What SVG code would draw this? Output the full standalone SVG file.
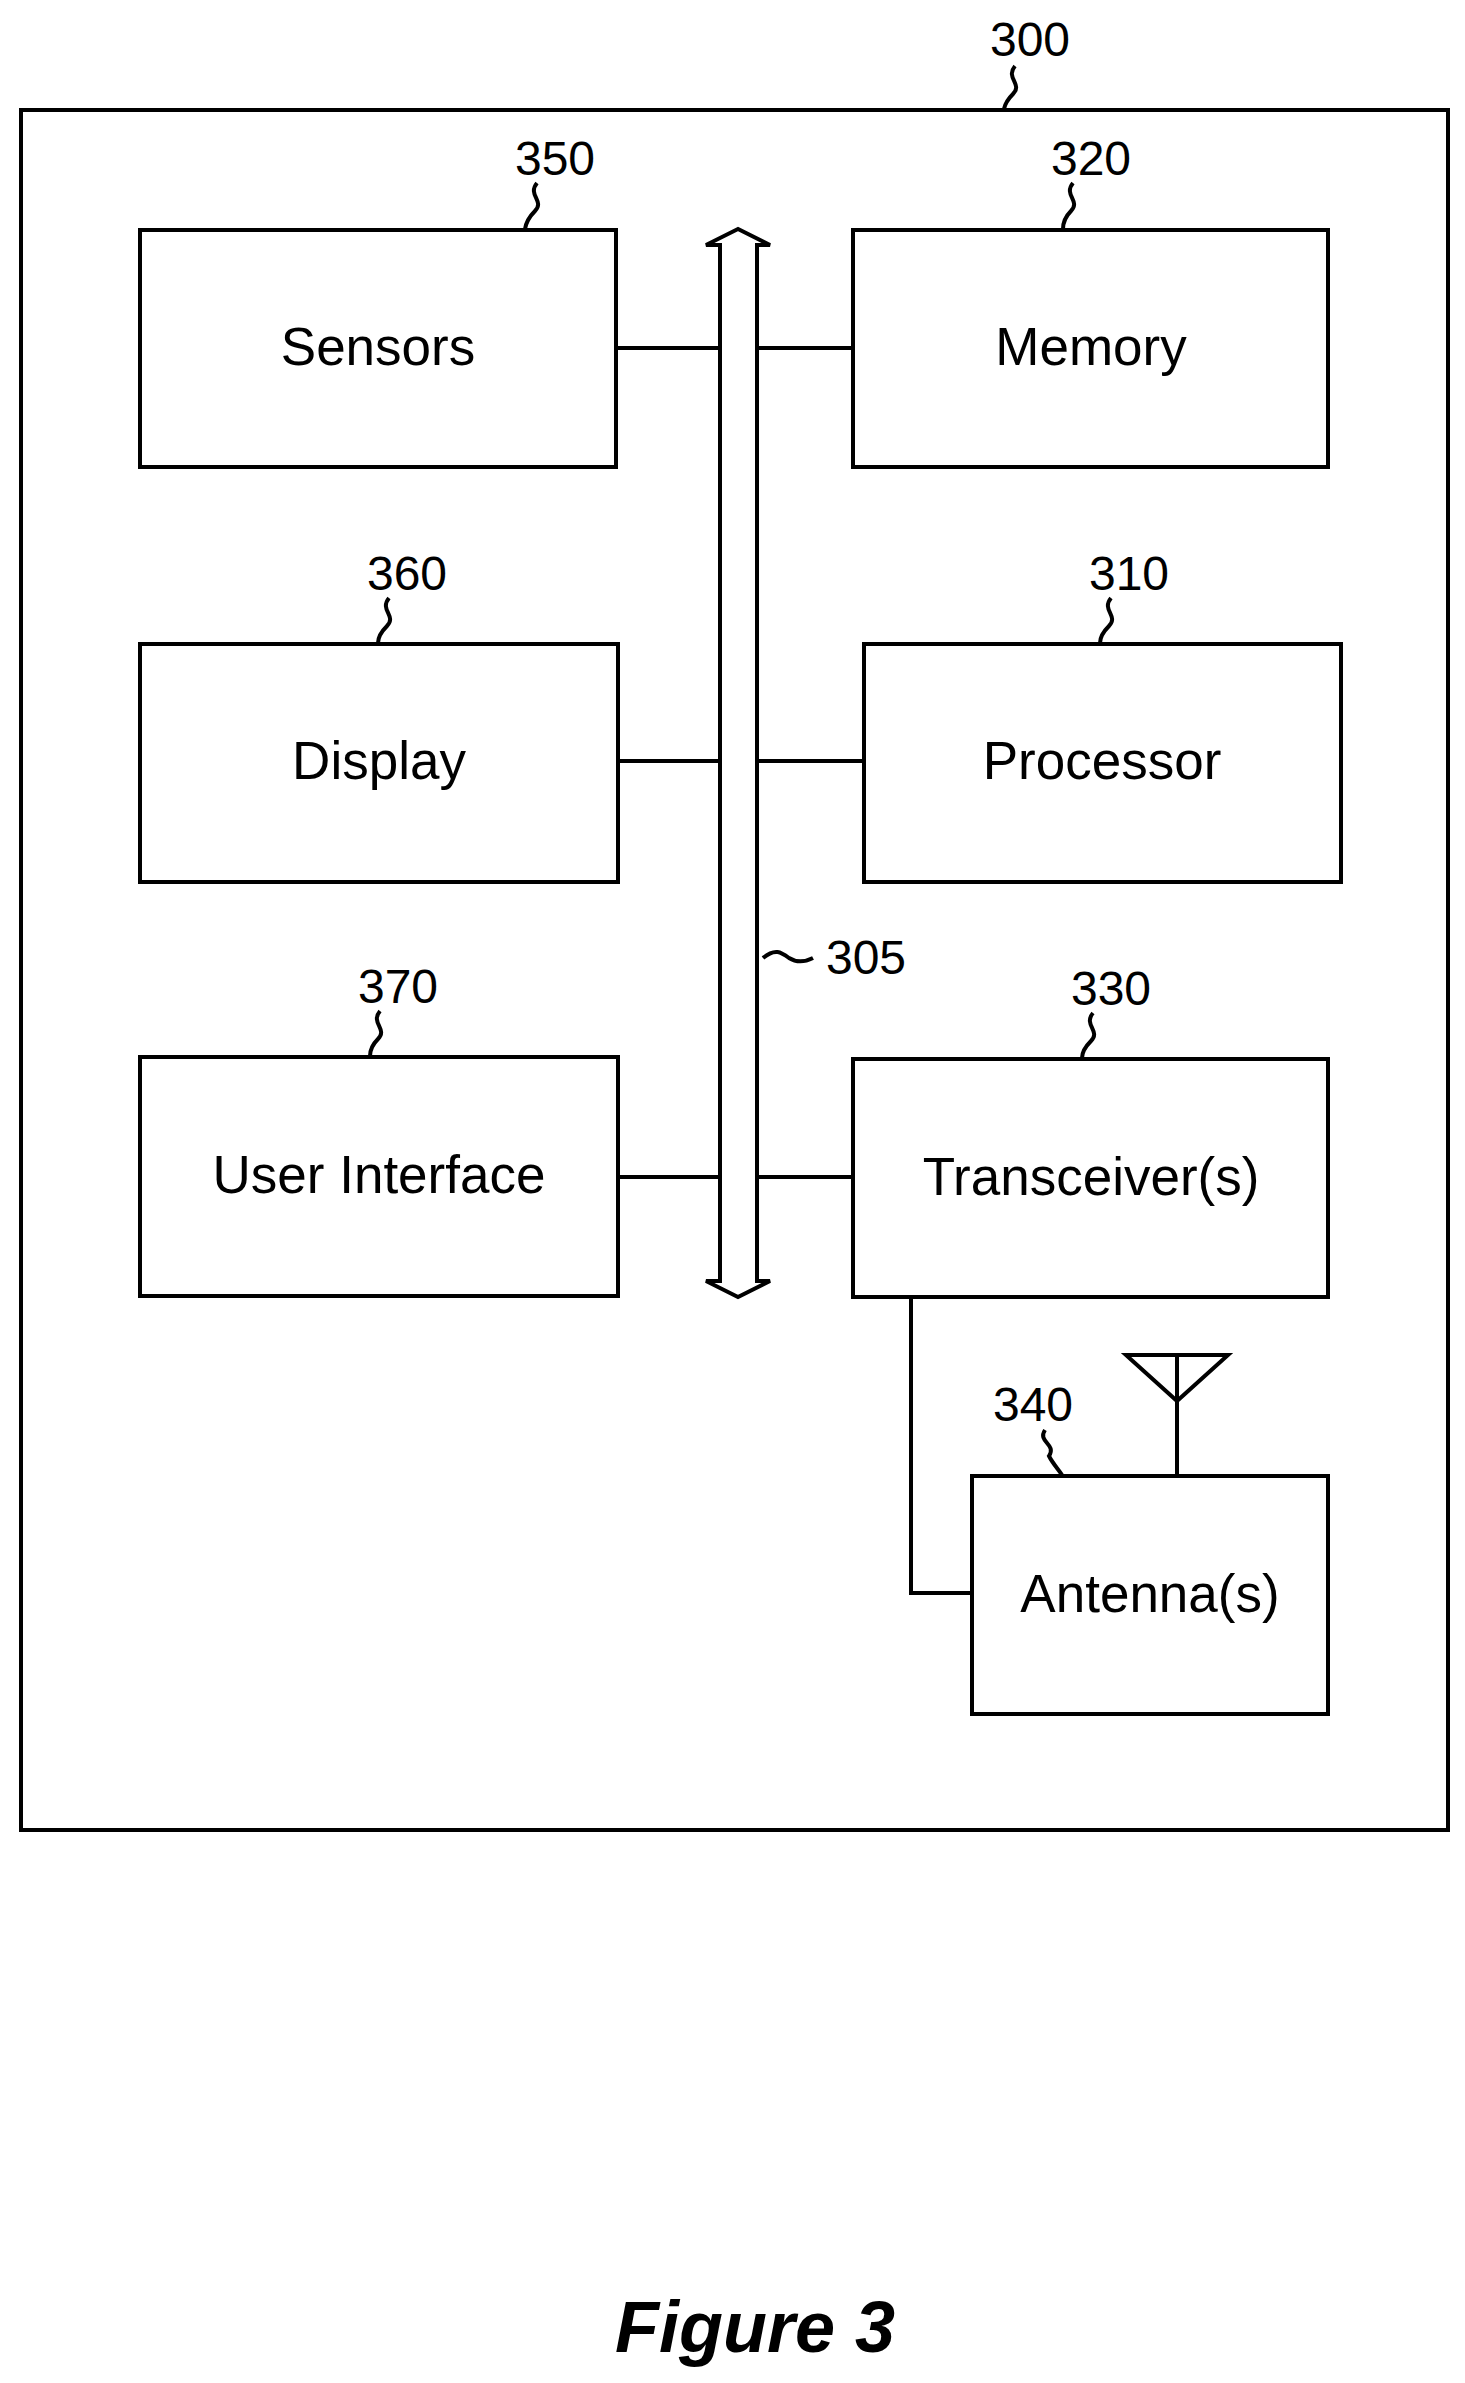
<svg xmlns="http://www.w3.org/2000/svg" width="1465" height="2383" viewBox="0 0 1465 2383">
<style>
.b{fill:#fff;stroke:#000;stroke-width:4}
.l{fill:none;stroke:#000;stroke-width:4}
.t{font-family:"Liberation Sans",Arial,sans-serif;font-size:53px;text-anchor:middle}
.n{font-family:"Liberation Sans",Arial,sans-serif;font-size:48px;text-anchor:middle}
</style>
<rect width="1465" height="2383" fill="#fff"/>
<g id="n300"><rect class="b" x="21" y="110" width="1427" height="1720"/><text class="n" x="1030" y="56">300</text><path class="l" d="M1015,66 c-10,12 8,18 -2,28 c-6,6 -8,10 -9,15"/></g>
<g id="connectors">
<path class="l" d="M616,348H720M757,348H853M618,761H720M757,761H864M618,1177H720M757,1177H853"/>
<path class="l" d="M911,1297V1593H972"/>
<path class="l" d="M1177,1476V1355M1126,1355H1228L1177,1401Z"/>
<path class="l" d="M763,958 c12,-10 18,-6 26,0 c8,5 16,4 24,0"/>
</g>
<g id="n305"><polygon class="b" points="738,229 706,245 720,245 720,1281 706,1281 738,1297 770,1281 757,1281 757,245 770,245"/><text class="n" x="866" y="974">305</text></g>
<g id="n350"><rect class="b" x="140" y="230" width="476" height="237"/><text class="t" x="378" y="365">Sensors</text><text class="n" x="555" y="175">350</text><path class="l" d="M537,183 c-10,12 8,18 -2,28 c-6,6 -9,12 -10,18"/></g>
<g id="n320"><rect class="b" x="853" y="230" width="475" height="237"/><text class="t" x="1091" y="365">Memory</text><text class="n" x="1091" y="175">320</text><path class="l" d="M1073,183 c-10,12 8,18 -2,28 c-6,6 -8,12 -8,18"/></g>
<g id="n360"><rect class="b" x="140" y="644" width="478" height="238"/><text class="t" x="379" y="779">Display</text><text class="n" x="407" y="590">360</text><path class="l" d="M389,598 c-10,12 8,18 -2,28 c-6,6 -9,12 -9,17"/></g>
<g id="n310"><rect class="b" x="864" y="644" width="477" height="238"/><text class="t" x="1102" y="779">Processor</text><text class="n" x="1129" y="590">310</text><path class="l" d="M1111,598 c-10,12 8,18 -2,28 c-6,6 -9,12 -9,17"/></g>
<g id="n370"><rect class="b" x="140" y="1057" width="478" height="239"/><text class="t" x="379" y="1193">User Interface</text><text class="n" x="398" y="1003">370</text><path class="l" d="M380,1011 c-10,12 8,18 -2,28 c-6,6 -8,12 -8,17"/></g>
<g id="n330"><rect class="b" x="853" y="1059" width="475" height="238"/><text class="t" x="1091" y="1195">Transceiver(s)</text><text class="n" x="1111" y="1005">330</text><path class="l" d="M1093,1013 c-10,12 8,18 -2,28 c-6,6 -9,12 -9,17"/></g>
<g id="n340"><rect class="b" x="972" y="1476" width="356" height="238"/><text class="t" x="1150" y="1612">Antenna(s)</text><text class="n" x="1033" y="1421">340</text><path class="l" d="M1045,1430 c-8,12 12,14 4,26 c4,8 10,14 13,19"/></g>
<text x="755" y="2352" font-family="Liberation Sans,Arial,sans-serif" font-size="72" font-weight="bold" font-style="italic" text-anchor="middle">Figure 3</text>
</svg>
